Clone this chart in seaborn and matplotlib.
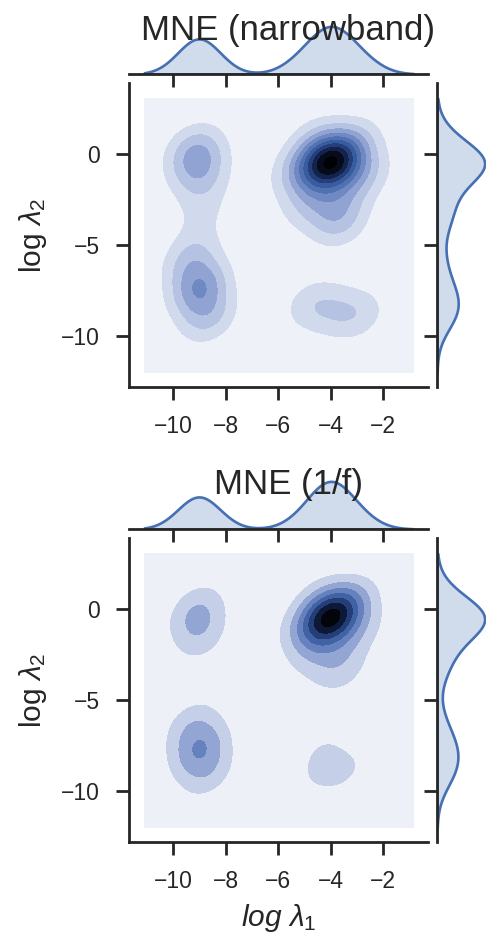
import numpy as np
import matplotlib
matplotlib.use("Agg")
import matplotlib.pyplot as plt
from matplotlib.colors import LinearSegmentedColormap
import seaborn as sns
from seaborn._statistics import KDE

# weighted estimates of (log lambda1, log lambda2)
# narrowband
nb_l1 = [-4.2, -3.8, -4.7, -3.0, -5.3, -2.7, -4.9, -3.9, -3.5,
         -9.25, -9.0, -8.8, -8.9,
         -9.35, -9.0, -8.65,
         -4.8, -3.85, -2.9]
nb_l2 = [-0.25, -0.65, 1.0, 0.7, -0.9, -1.2, -2.6, -3.1, -3.9,
         0.3, -0.7, -1.9, -3.6,
         -5.8, -7.4, -9.0,
         -8.2, -8.6, -8.9]
nb_w = [2.9, 2.9, 0.5, 0.65, 0.9, 0.95, 0.85, 1.1, 0.75,
        1.2, 1.2, 0.6, 0.5,
        1.2, 2.0, 1.2,
        0.8, 0.72, 0.8]

# 1/f
pf_l1 = [-4.15, -3.85, -4.6, -3.0, -5.2, -2.8, -4.8, -3.9, -3.4,
         -9.2, -9.0, -8.8,
         -9.35, -9.0, -8.65,
         -4.35, -3.4, -4.45]
pf_l2 = [-0.3, -0.6, 0.9, 0.6, -0.9, -1.1, -2.4, -2.9, -3.6,
         0.1, -0.9, -2.0,
         -6.3, -7.7, -9.1,
         -7.6, -8.9, -9.0]
pf_w = [2.8, 2.8, 0.45, 0.6, 0.7, 0.8, 0.7, 0.9, 0.6,
        1.05, 1.05, 0.55,
        1.1, 2.0, 1.1,
        0.55, 0.72, 0.55]

titles = ["MNE (narrowband)", "MNE (1/f)"]
x_ticks = [-10, -8, -6, -4, -2]
y_ticks = [0, -5, -10]

BW = 0.3
CUT = 4
GRID = 200
CLIP = ((-11.1, -0.85), (-12.0, 3.05))
LINE = "#4570b3"
# contour steps that fit inside the lower-left cluster peak
LB_STEPS = [4.2, 3.15]

cmap = LinearSegmentedColormap.from_list("kde", [
    (0.0, "#eef1f7"), (0.06, "#eef1f7"), (0.125, "#d6ddee"), (0.21, "#c2cce6"),
    (0.29, "#a1b1d9"), (0.375, "#8398cc"), (0.5, "#5a79b8"), (0.65, "#33569a"),
    (0.8, "#17295a"), (0.92, "#060b18"), (1.0, "#000000")])

sns.set_style("ticks")
plt.rcParams.update({
    "font.family": ["Liberation Sans", "DejaVu Sans"],
    "mathtext.fontset": "custom",
    "mathtext.rm": "Liberation Sans",
    "mathtext.it": "Liberation Sans:italic",
    "mathtext.bf": "Liberation Sans:bold",
    "axes.edgecolor": ".15",
    "axes.linewidth": 2.0,
    "xtick.color": ".15",
    "ytick.color": ".15",
})


def linear_levels(x, y, w, lb_steps):
    # evenly spaced density levels, expressed as iso-proportions for kdeplot
    kde = KDE(bw_method=BW, cut=CUT, clip=CLIP, gridsize=GRID)
    dens, (g1, g2) = kde(np.asarray(x, float), np.asarray(y, float),
                         weights=np.asarray(w, float))
    xx, yy = np.meshgrid(g1, g2)
    step = dens[(xx < -6.5) & (yy < -4.2)].max() / lb_steps
    vals = np.sort(dens.ravel())[::-1]
    cum = np.cumsum(vals) / vals.sum()
    props = [0.0]
    t = step
    while t < vals[0] * 0.98:
        j = np.searchsorted(-vals, -t, side="right") - 1
        props.append(1 - cum[j])
        t += step
    props.append(1.0)
    return sorted(props)


W, H = 486, 933


def rect(left, top, width, height):
    return [left / W, 1 - (top + height) / H, width / W, height / H]


fig = plt.figure(figsize=(W / 100, H / 100), dpi=100)

panels = [(nb_l1, nb_l2, nb_w, 83, 40), (pf_l1, pf_l2, pf_w, 538, 494)]
tick_kw = dict(length=9.5, width=2.0, labelsize=16.5, pad=11)

for i, (l1, l2, w, top, title_y) in enumerate(panels):
    ax = fig.add_axes(rect(128.5, top, 299.5, 304))
    ax_top = fig.add_axes(rect(128.5, top - 59, 299.5, 50))
    ax_right = fig.add_axes(rect(437, top, 50, 304))

    props = linear_levels(l1, l2, w, LB_STEPS[i])
    sns.kdeplot(x=l1, y=l2, weights=w, fill=True, levels=props, cmap=cmap,
                bw_method=BW, cut=CUT, clip=CLIP, gridsize=GRID, ax=ax)

    sns.kdeplot(x=l1, weights=w, fill=True, color=LINE, alpha=0.25,
                linewidth=1.9, bw_method=BW, cut=CUT, clip=CLIP[0], ax=ax_top)
    sns.kdeplot(y=l2, weights=w, fill=True, color=LINE, alpha=0.25,
                linewidth=1.9, bw_method=BW, cut=CUT, clip=CLIP[1], ax=ax_right)

    ax.set_xlim(-11.7, -0.3)
    ax.set_ylim(-12.8, 3.9)
    ax.set_xticks(x_ticks)
    ax.set_yticks(y_ticks)
    ax.tick_params(**tick_kw)
    ax.set_ylabel(r"log $\lambda_2$", fontsize=21.5, labelpad=9)
    if i == 1:
        ax.set_xlabel(r"$log\ \lambda_1$", fontsize=21.5, labelpad=6)
    else:
        ax.set_xlabel("")
    sns.despine(ax=ax)

    ax_top.set_xlim(-11.7, -0.3)
    ax_top.set_xticks(x_ticks)
    ax_top.set_yticks([])
    ax_top.set_xlabel("")
    ax_top.set_ylabel("")
    ax_top.tick_params(axis="x", labelbottom=False, length=9.5, width=2.0)
    sns.despine(ax=ax_top, left=True)

    ax_right.set_ylim(-12.8, 3.9)
    ax_right.set_yticks(y_ticks)
    ax_right.set_xticks([])
    ax_right.set_xlabel("")
    ax_right.set_ylabel("")
    ax_right.tick_params(axis="y", labelleft=False, length=9.5, width=2.0)
    sns.despine(ax=ax_right, bottom=True)

    fig.text(288 / W, 1 - title_y / H, titles[i], ha="center",
             va="baseline", fontsize=25, color=".15")

fig.savefig("out.png", dpi=100)
